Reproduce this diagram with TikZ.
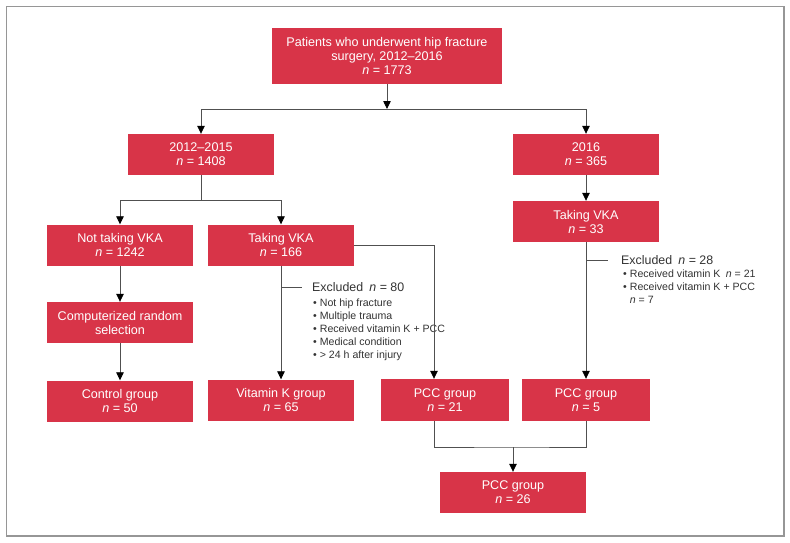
\documentclass[tikz,border=0pt]{standalone}
\usepackage{fontspec}
\setmainfont{Liberation Sans}
\usetikzlibrary{arrows.meta}
\definecolor{flowred}{RGB}{216,52,72}
\definecolor{flowline}{RGB}{80,80,80}
\definecolor{framegray}{RGB}{150,150,150}

\begin{document}
\begin{tikzpicture}
[ x=1pt, y=-1pt
, box/.style={rectangle, fill=flowred, text=white, minimum width=146pt, minimum height=41pt, inner sep=0pt, align=center, font=\fontsize{12.6}{14}\selectfont}
, smallbox/.style={box, minimum width=128pt, minimum height=42pt}
, note/.style={inner sep=0pt, align=left, text=black!80, font=\fontsize{12.4}{14}\selectfont}
, list/.style={inner sep=0pt, align=left, text=black!80, font=\fontsize{10.6}{13}\selectfont}
, link/.style={draw=flowline, line width=0.8pt}
, arrow/.style={link, -{Triangle[length=8pt, width=7.5pt, color=black]}}
]
\useasboundingbox (0,0) rectangle (790,543);
\draw [draw=framegray, line width=1.5pt] (6.5,6.5) rectangle (784,536);
% Boxes
\node (all) [box, minimum width=230pt, minimum height=56pt] at (387,56) {Patients who underwent hip fracture\\surgery, 2012–2016\\\textit{n} = 1773};
\node (y1215) [box] at (201,154.5) {2012–2015\\\textit{n} = 1408};
\node (y16) [box] at (586,154.5) {2016\\\textit{n} = 365};
\node (novka) [box] at (120,245) {Not taking VKA\\\textit{n} = 1242};
\node (vka) [box] at (281,245) {Taking VKA\\\textit{n} = 166};
\node (vka16) [box] at (586,221.5) {Taking VKA\\\textit{n} = 33};
\node (random) [box] at (120,322.5) {Computerized random\\selection};
\node (control) [box] at (120,401) {Control group\\\textit{n} = 50};
\node (vitk) [box] at (281,400) {Vitamin K group\\\textit{n} = 65};
\node (pcc21) [smallbox] at (445,400) {PCC group\\\textit{n} = 21};
\node (pcc5) [smallbox] at (586,400) {PCC group\\\textit{n} = 5};
\node (pcc26) [box] at (513,492.5) {PCC group\\\textit{n} = 26};
% Exclusions
\node (exc80) [note, anchor=west] at (312,287) {Excluded\enspace\textit{n} = 80};
\node (exc80list) [list, anchor=north west] at (313,299) {• Not hip fracture\\• Multiple trauma\\• Received vitamin K + PCC\\• Medical condition\\• > 24 h after injury};
\node (exc28) [note, anchor=west] at (621,260) {Excluded\enspace\textit{n} = 28};
\node (exc28list) [list, anchor=north west] at (623,270) {• Received vitamin K\enspace\textit{n} = 21\\• Received vitamin K + PCC\\\phantom{• }\textit{n} = 7};
% Connectors
\coordinate (split1) at (387,109);
\coordinate (split2) at (201,200);
\coordinate (merge) at (513,447);
\draw [arrow] (all) -- (split1);
\draw [arrow] (split1) -| (y1215);
\draw [arrow] (split1) -| (y16);
\draw [arrow] (y16) -- (vka16);
\draw [link] (y1215) -- (split2);
\draw [arrow] (split2) -| (novka);
\draw [arrow] (split2) -| (vka);
\draw [arrow] (novka) -- (random);
\draw [arrow] (random) -- (control);
\draw [arrow] (vka) -- (vitk);
\draw [arrow] (vka.east) -| ([xshift=-11pt]pcc21.north);
\draw [arrow] (vka16) -- (pcc5);
\draw [link] (vka.south |- exc80.west) -- ([xshift=-10pt]exc80.west);
\draw [link] (vka16.south |- exc28.west) -- ([xshift=-13pt]exc28.west);
\draw [link] ([xshift=-11pt]pcc21.south) |- (merge) -| (pcc5.south);
\draw [arrow] (merge) -- (pcc26);
\end{tikzpicture}
\end{document}
